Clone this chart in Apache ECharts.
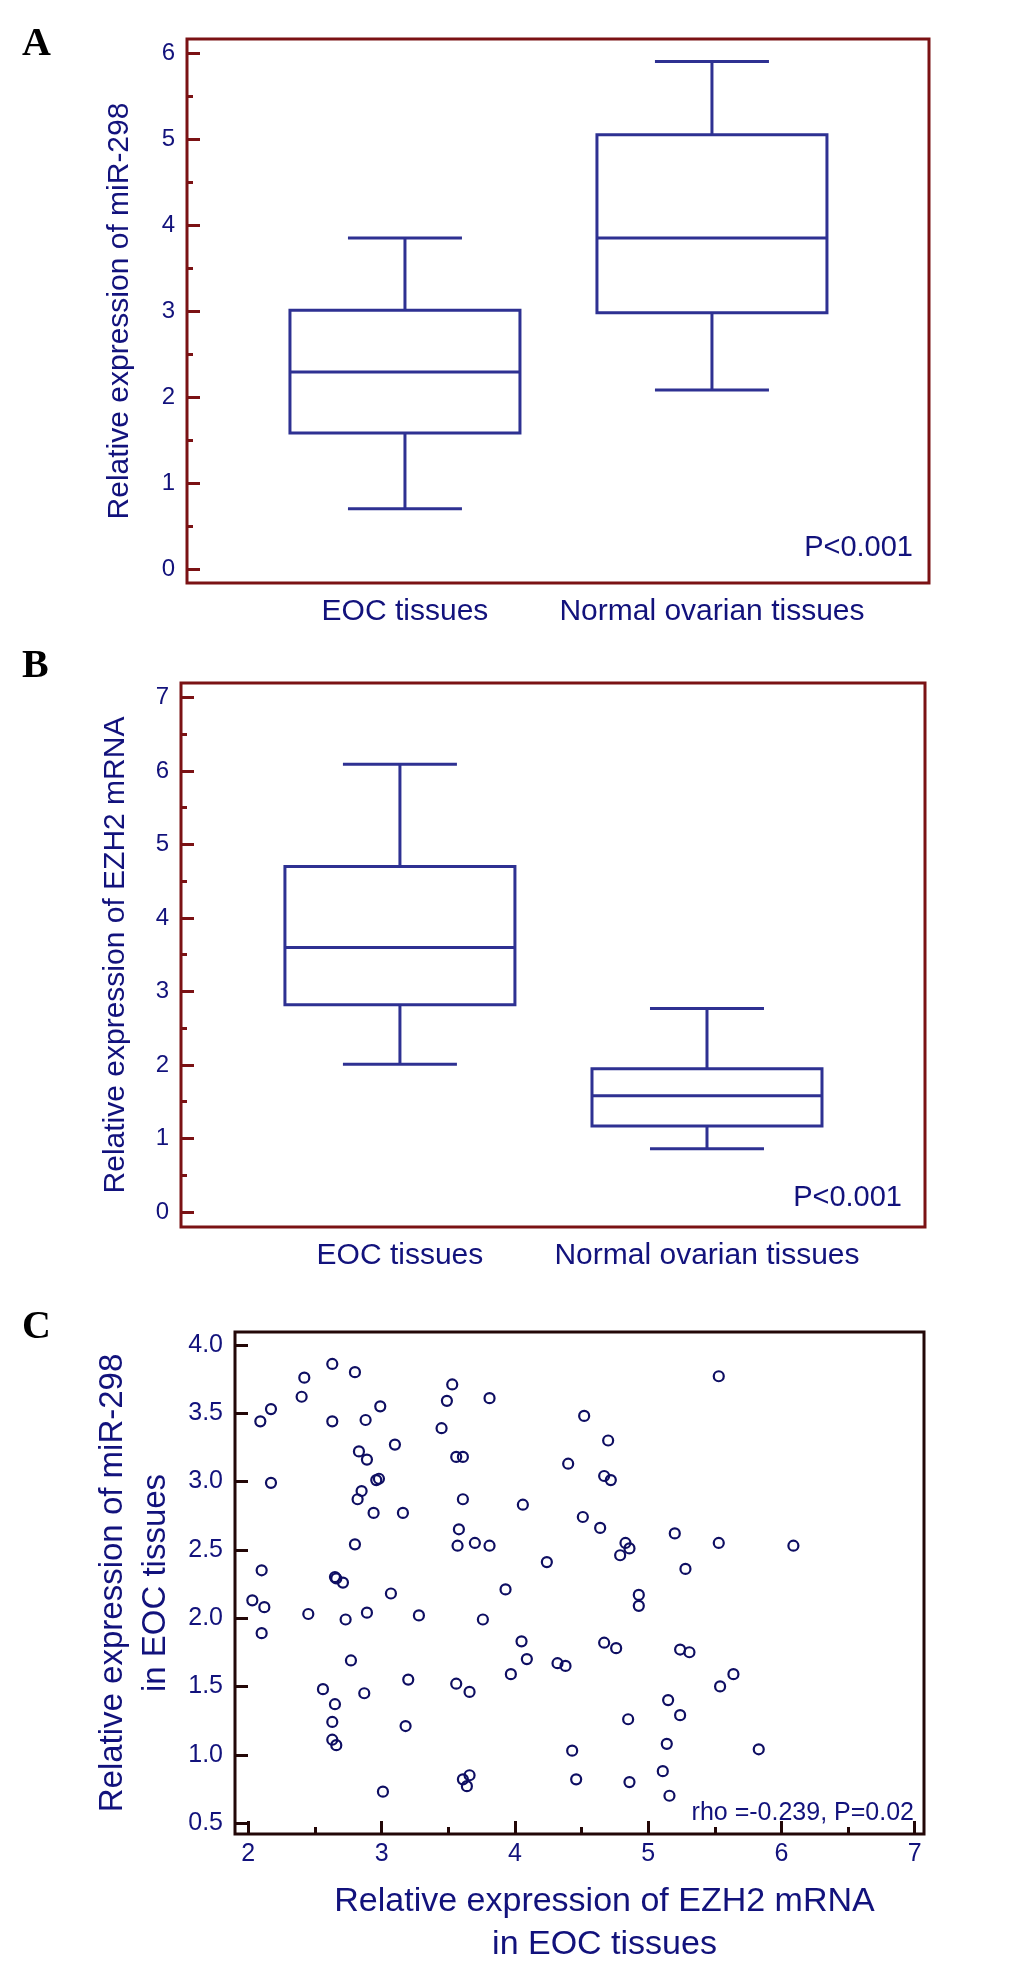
<!DOCTYPE html>
<html><head><meta charset="utf-8">
<script src="https://cdn.jsdelivr.net/npm/echarts@6/dist/echarts.min.js"></script>
<style>html,body{margin:0;padding:0;background:#fff}#c{width:1033px;height:1967px}</style>
</head><body><div id="c"></div>
<script>
// ---------- data ----------
const groupLabels = ['EOC tissues', 'Normal ovarian tissues'];
// box statistics: [lower whisker, Q1, median, Q3, upper whisker]
const mir298Box = [[0.70, 1.58, 2.29, 3.01, 3.85], [2.08, 2.98, 3.85, 5.05, 5.90]];
const ezh2Box   = [[2.01, 2.82, 3.60, 4.70, 6.09], [0.86, 1.17, 1.58, 1.95, 2.77]];
const ticksA = [0, 1, 2, 3, 4, 5, 6];
const minorA = [0.5, 1.5, 2.5, 3.5, 4.5, 5.5];
const ticksB = [0, 1, 2, 3, 4, 5, 6, 7];
const minorB = [0.5, 1.5, 2.5, 3.5, 4.5, 5.5, 6.5];
const ticksCx = [2, 3, 4, 5, 6, 7];
const minorCx = [2.5, 3.5, 4.5, 5.5, 6.5];
const ticksCy = [0.5, 1.0, 1.5, 2.0, 2.5, 3.0, 3.5, 4.0];
// scatter: EZH2 mRNA (x) vs miR-298 (y) in EOC tissues
const ezh2EOC = [2.09,2.17,2.42,2.40,2.63,2.80,2.63,2.88,2.99,3.10,2.83,2.89,2.17,2.85,2.82,2.96,2.98,2.94,3.16,2.80,
  2.10,2.65,2.66,2.71,2.03,2.12,2.10,2.45,2.73,2.89,3.07,3.28,2.77,2.56,2.87,3.20,2.65,2.63,3.18,2.63,
  2.66,3.01,3.45,3.49,3.53,3.56,3.61,3.61,3.58,3.57,3.70,3.56,3.66,3.61,3.66,3.64,
  3.81,4.52,4.70,4.40,4.67,4.72,4.06,4.51,4.64,3.81,4.24,4.83,4.86,4.79,5.20,5.28,3.93,4.93,4.93,3.76,
  4.05,4.09,3.97,4.32,4.38,4.67,4.76,5.24,5.31,5.15,5.24,4.85,4.43,5.14,4.46,4.86,5.11,5.16,
  5.53,5.53,6.09,5.54,5.64,5.83];
const mir298EOC = [3.44,3.53,3.76,3.62,3.86,3.80,3.44,3.45,3.55,3.27,3.22,3.16,2.99,2.93,2.87,3.01,3.02,2.77,2.77,2.54,
  2.35,2.30,2.29,2.26,2.13,2.08,1.89,2.03,1.99,2.04,2.18,2.02,1.69,1.48,1.45,1.55,1.37,1.24,1.21,1.11,
  1.07,0.73,3.39,3.59,3.71,3.18,3.18,2.87,2.65,2.53,2.55,1.52,1.46,0.82,0.85,0.77,
  3.61,3.48,3.30,3.13,3.04,3.01,2.83,2.74,2.66,2.53,2.41,2.55,2.51,2.46,2.62,2.36,2.21,2.17,2.09,1.99,
  1.83,1.70,1.59,1.67,1.65,1.82,1.78,1.77,1.75,1.40,1.29,1.26,1.03,1.08,0.82,0.80,0.88,0.70,
  3.77,2.55,2.53,1.50,1.59,1.04];

// ---------- styles ----------
const FONT = 'Liberation Sans, Arial, sans-serif';
const NAVY = '#12127c';
const BOXC = '#2e3192';
const FRAME_AB = '#7b1214';
const FRAME_C = '#230707';

function boxRender(params, api) {
  const x = api.value(0);
  const lo = api.coord([x, api.value(1)]);
  const q1 = api.coord([x, api.value(2)]);
  const md = api.coord([x, api.value(3)]);
  const q3 = api.coord([x, api.value(4)]);
  const hi = api.coord([x, api.value(5)]);
  const cx = lo[0], hb = 115, hc = 57;
  const st = { stroke: BOXC, lineWidth: 3, fill: 'none' };
  return { type: 'group', children: [
    { type: 'rect', shape: { x: cx - hb, y: q3[1], width: 2 * hb, height: q1[1] - q3[1] }, style: st },
    { type: 'line', shape: { x1: cx - hb, y1: md[1], x2: cx + hb, y2: md[1] }, style: st },
    { type: 'line', shape: { x1: cx, y1: q3[1], x2: cx, y2: hi[1] }, style: st },
    { type: 'line', shape: { x1: cx - hc, y1: hi[1], x2: cx + hc, y2: hi[1] }, style: st },
    { type: 'line', shape: { x1: cx, y1: q1[1], x2: cx, y2: lo[1] }, style: st },
    { type: 'line', shape: { x1: cx - hc, y1: lo[1], x2: cx + hc, y2: lo[1] }, style: st }
  ]};
}

function catX(grid, min, max) {
  return { type: 'value', gridIndex: grid, min: min, max: max,
    axisLine: { show: false }, axisTick: { show: false }, splitLine: { show: false },
    axisLabel: { customValues: [1, 2], formatter: v => groupLabels[Math.round(v) - 1],
      fontSize: 30, color: NAVY, fontFamily: FONT, margin: 14 } };
}
function valY(grid, min, max, ticks, len, showLabel, frameColor, name, nameGap, fmt, fs) {
  return { type: 'value', gridIndex: grid, min: min, max: max, position: 'left',
    name: name || '', nameLocation: 'middle', nameGap: nameGap || 0,
    nameTextStyle: { fontSize: 30, color: NAVY, fontFamily: FONT },
    axisLine: { show: false }, splitLine: { show: false },
    axisTick: { show: true, inside: true, length: len, customValues: ticks, lineStyle: { color: frameColor, width: 3 } },
    axisLabel: { show: showLabel, customValues: ticks, fontSize: fs || 24, color: NAVY, fontFamily: FONT, margin: 12,
      formatter: fmt || (v => String(v)) } };
}

const chart = echarts.init(document.getElementById('c'), null, { renderer: 'canvas' });
chart.setOption({
  animation: false,
  backgroundColor: '#ffffff',
  grid: [
    { left: 187, top: 39, width: 742, height: 544, show: true, borderColor: FRAME_AB, borderWidth: 3, backgroundColor: 'transparent' },
    { left: 181, top: 683, width: 744, height: 544, show: true, borderColor: FRAME_AB, borderWidth: 3, backgroundColor: 'transparent' },
    { left: 235, top: 1332, width: 689, height: 508, show: true, borderColor: FRAME_C, borderWidth: 3, backgroundColor: 'transparent' }
  ],
  xAxis: [
    catX(0, 0.290, 2.707),
    catX(1, 0.287, 2.710),
    { type: 'value', gridIndex: 2, min: 1.9, max: 7.07, position: 'bottom',
      name: 'Relative expression of EZH2 mRNA\nin EOC tissues', nameLocation: 'middle', nameGap: 46,
      nameTextStyle: { fontSize: 34, lineHeight: 43, color: NAVY, fontFamily: FONT, align: 'center', padding: [0, 0, 0, 50] },
      axisLine: { show: false }, splitLine: { show: false },
      axisTick: { show: true, inside: true, length: 13, customValues: ticksCx, lineStyle: { color: FRAME_C, width: 3 } },
      axisLabel: { customValues: ticksCx, fontSize: 25, color: NAVY, fontFamily: FONT, margin: 8 } },
    { type: 'value', gridIndex: 2, min: 1.9, max: 7.07, position: 'bottom',
      axisLine: { show: false }, splitLine: { show: false }, axisLabel: { show: false },
      axisTick: { show: true, inside: true, length: 7, customValues: minorCx, lineStyle: { color: FRAME_C, width: 3 } } }
  ],
  yAxis: [
    valY(0, -0.163, 6.163, ticksA, 13, true, FRAME_AB, 'Relative expression of miR-298', 52),
    valY(0, -0.163, 6.163, minorA, 6, false, FRAME_AB),
    valY(1, -0.204, 7.197, ticksB, 13, true, FRAME_AB, 'Relative expression of EZH2 mRNA', 50),
    valY(1, -0.204, 7.197, minorB, 6, false, FRAME_AB),
    Object.assign(valY(2, 0.420, 4.094, ticksCy, 13, true, FRAME_C, 'Relative expression of miR-298\nin EOC tissues', 42, v => v.toFixed(1), 25),
      { nameTextStyle: { fontSize: 33, lineHeight: 43, color: NAVY, fontFamily: FONT, align: 'center' } })
  ],
  series: [
    { type: 'custom', xAxisIndex: 0, yAxisIndex: 0, renderItem: boxRender, encode: { x: 0, y: [1, 2, 3, 4, 5] },
      data: groupLabels.map((g, i) => [i + 1].concat(mir298Box[i])) },
    { type: 'custom', xAxisIndex: 1, yAxisIndex: 2, renderItem: boxRender, encode: { x: 0, y: [1, 2, 3, 4, 5] },
      data: groupLabels.map((g, i) => [i + 1].concat(ezh2Box[i])) },
    { type: 'scatter', xAxisIndex: 2, yAxisIndex: 4, symbol: 'circle', symbolSize: 10,
      itemStyle: { color: 'transparent', borderColor: '#0e0e62', borderWidth: 2.2, opacity: 1 },
      data: ezh2EOC.map((x, i) => [x, mir298EOC[i]]) }
  ],
  graphic: [
    { type: 'text', x: 22, y: 45, style: { text: 'A', font: 'bold 40px "Liberation Serif", "Times New Roman", serif', fill: '#000', textVerticalAlign: 'middle' } },
    { type: 'text', x: 22, y: 667, style: { text: 'B', font: 'bold 40px "Liberation Serif", "Times New Roman", serif', fill: '#000', textVerticalAlign: 'middle' } },
    { type: 'text', x: 22, y: 1328, style: { text: 'C', font: 'bold 40px "Liberation Serif", "Times New Roman", serif', fill: '#000', textVerticalAlign: 'middle' } },
    { type: 'text', x: 913, y: 548, style: { text: 'P<0.001', font: '29px ' + FONT, fill: NAVY, textAlign: 'right', textVerticalAlign: 'middle' } },
    { type: 'text', x: 902, y: 1198, style: { text: 'P<0.001', font: '29px ' + FONT, fill: NAVY, textAlign: 'right', textVerticalAlign: 'middle' } },
    { type: 'text', x: 914, y: 1813, style: { text: 'rho =-0.239, P=0.02', font: '25px ' + FONT, fill: NAVY, textAlign: 'right', textVerticalAlign: 'middle' } }
  ]
});
</script></body></html>
